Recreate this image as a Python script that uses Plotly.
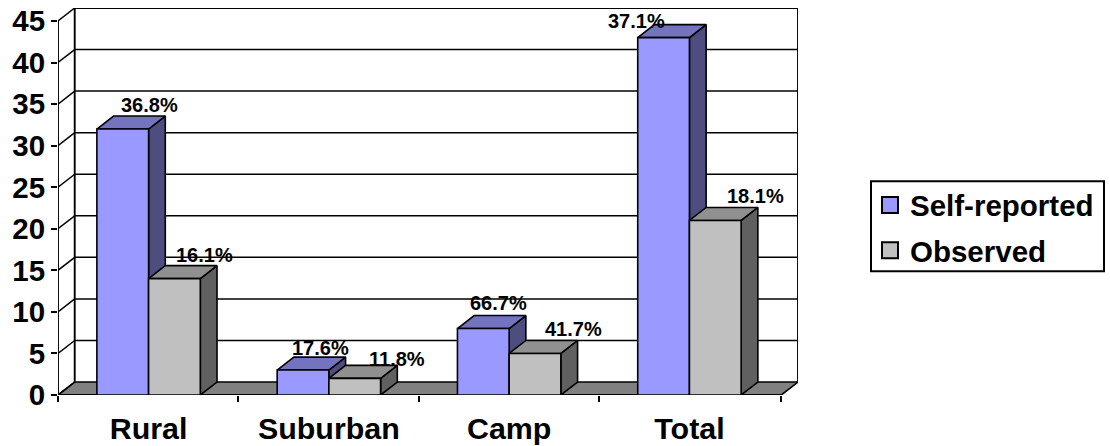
import plotly.graph_objects as go

# Survey results per setting; the percentages are the printed share of respondents.
CATEGORIES = ["Rural", "Suburban", "Camp", "Total"]
SELF_REPORTED = [32, 3, 8, 43]
OBSERVED = [14, 2, 5, 21]
SELF_REPORTED_PCT = ["36.8%", "17.6%", "66.7%", "37.1%"]
OBSERVED_PCT = ["16.1%", "11.8%", "41.7%", "18.1%"]
Y_TICKS = [0, 5, 10, 15, 20, 25, 30, 35, 40, 45]

# Pseudo-3D geometry, in axis units
BAR_WIDTH = 0.286
CATEGORY_STEP = 0.997
FIRST_CENTRE = 0.501
DEPTH_X = 0.0924
DEPTH_Y = 1.56
X_MAX = len(CATEGORIES)
Y_MAX = Y_TICKS[-1]
X_RANGE = [0, X_MAX + DEPTH_X]
Y_RANGE = [0, Y_MAX + DEPTH_Y]

FONT = "Liberation Sans, Arial, sans-serif"
INK = "#000000"

# Label nudges in pixels from the centre of each bar's top edge
SELF_SHIFTS = [(27, 24), (17, 22), (15, 26), (-27, 17)]
OBS_SHIFTS = [(30, 24), (42, 19), (38, 24), (40, 24)]


def with_gaps(segments):
    xs, ys = [], []
    for seg_x, seg_y in segments:
        xs += list(seg_x) + [None]
        ys += list(seg_y) + [None]
    return xs, ys


def side_face(left, value):
    right = left + BAR_WIDTH
    return ([right, right + DEPTH_X, right + DEPTH_X, right, right],
            [0, DEPTH_Y, value + DEPTH_Y, value, 0])


def top_face(left, value):
    right = left + BAR_WIDTH
    return ([left, left + DEPTH_X, right + DEPTH_X, right, left],
            [value, value + DEPTH_Y, value + DEPTH_Y, value, value])


def polygons(segments, fill):
    xs, ys = with_gaps(segments)
    return go.Scatter(x=xs, y=ys, mode="lines", fill="toself", fillcolor=fill,
                      line=dict(color=INK, width=1.6), showlegend=False,
                      hoverinfo="skip", cliponaxis=False)


def rules(segments, width):
    xs, ys = with_gaps(segments)
    return go.Scatter(x=xs, y=ys, mode="lines", line=dict(color=INK, width=width),
                      showlegend=False, hoverinfo="skip", cliponaxis=False)


fig = go.Figure()

# Floor of the box
fig.add_trace(polygons(
    [([0, DEPTH_X, X_MAX + DEPTH_X, X_MAX, 0], [0, DEPTH_Y, DEPTH_Y, 0, 0])], "#808080"))

# Back-wall gridlines and the diagonals on the left wall
fig.add_trace(rules([([DEPTH_X, X_MAX + DEPTH_X], [t + DEPTH_Y] * 2) for t in Y_TICKS[1:-1]], 1.5))
fig.add_trace(rules([([0, DEPTH_X], [t, t + DEPTH_Y]) for t in Y_TICKS], 1.5))

# Box frame and front axis lines
fig.add_trace(rules([
    ([DEPTH_X, DEPTH_X, X_MAX + DEPTH_X, X_MAX + DEPTH_X],
     [DEPTH_Y, Y_MAX + DEPTH_Y, Y_MAX + DEPTH_Y, DEPTH_Y]),
    ([0, 0], [0, Y_MAX]),
    ([0, X_MAX], [0, 0]),
], 1.9))

centres = [FIRST_CENTRE + i * CATEGORY_STEP for i in range(len(CATEGORIES))]
boundaries = [i * CATEGORY_STEP for i in range(len(CATEGORIES))] + [X_MAX]
self_left = [c - BAR_WIDTH for c in centres]
obs_left = list(centres)

# Depth faces: the observed faces are painted over the self-reported side
fig.add_trace(polygons([side_face(l, v) for l, v in zip(self_left, SELF_REPORTED)], "#4D4D80"))
fig.add_trace(polygons([top_face(l, v) for l, v in zip(self_left, SELF_REPORTED)], "#7373BF"))
fig.add_trace(polygons([side_face(l, v) for l, v in zip(obs_left, OBSERVED)], "#606060"))
fig.add_trace(polygons([top_face(l, v) for l, v in zip(obs_left, OBSERVED)], "#909090"))

# Front faces live on overlay axes so that they sit above the depth faces
for name, values, colour in (("Self-reported", SELF_REPORTED, "#9999FF"),
                             ("Observed", OBSERVED, "#C0C0C0")):
    fig.add_trace(go.Bar(x=centres, y=values, name=name, xaxis="x2", yaxis="y2",
                         marker=dict(color=colour, line=dict(color=INK, width=1.6)),
                         showlegend=False, cliponaxis=False))

# Legend keys
for idx, (name, colour) in enumerate((("Self-reported", "#9999FF"), ("Observed", "#C0C0C0"))):
    fig.add_trace(go.Scatter(x=[None], y=[None], mode="markers", name=name,
                             legendgroup=f"g{idx}",
                             marker=dict(symbol="square", size=16, color=colour,
                                         line=dict(color=INK, width=2))))

# Percentage labels above the bars
annotations = []
for values, texts, shifts, offset in (
        (SELF_REPORTED, SELF_REPORTED_PCT, SELF_SHIFTS, -BAR_WIDTH / 2),
        (OBSERVED, OBSERVED_PCT, OBS_SHIFTS, BAR_WIDTH / 2)):
    for c, v, t, (sx, sy) in zip(centres, values, texts, shifts):
        annotations.append(dict(x=c + offset, y=v, xref="x", yref="y", text=t,
                                showarrow=False, xanchor="center", yanchor="middle",
                                xshift=sx, yshift=sy,
                                font=dict(family=FONT, size=20, color=INK, weight="bold")))

# Plotting-area size, used to express the legend placement as fractions of it
PLOT_L, PLOT_R, PLOT_T, PLOT_B = 58, 798, 7.5, 395
plot_w = PLOT_R - PLOT_L
plot_h = PLOT_B - PLOT_T


def frac_x(px):
    return (px - PLOT_L) / plot_w


def frac_y(px):
    return (PLOT_B - px) / plot_h


fig.update_layout(
    width=1110, height=446, autosize=False,
    margin=dict(l=PLOT_L, r=1110 - PLOT_R, t=PLOT_T, b=446 - PLOT_B, pad=0, autoexpand=False),
    paper_bgcolor="white", plot_bgcolor="white",
    barmode="group", bargap=1 - 2 * BAR_WIDTH / CATEGORY_STEP, bargroupgap=0,
    showlegend=True,
    legend=dict(x=frac_x(870), y=frac_y(179), xanchor="left", yanchor="top",
                borderwidth=0, bgcolor="rgba(0,0,0,0)",
                tracegroupgap=4, entrywidth=190, entrywidthmode="pixels",
                itemclick=False, itemdoubleclick=False,
                font=dict(family=FONT, size=29.5, color=INK, weight="bold")),
    # Legend frame
    shapes=[dict(type="rect", xref="paper", yref="paper", layer="below",
                 x0=frac_x(871), x1=frac_x(1104), y0=frac_y(271), y1=frac_y(181),
                 line=dict(color=INK, width=2), fillcolor="white")],
    annotations=annotations,
    xaxis=dict(range=X_RANGE, automargin=False, tickmode="array",
               tickvals=boundaries,
               ticktext=[""] * len(boundaries), ticks="outside", ticklen=6, tickwidth=1.6,
               tickcolor=INK, showgrid=False, zeroline=False, showline=False),
    yaxis=dict(range=Y_RANGE, automargin=False, tickmode="array", tickvals=Y_TICKS,
               ticks="outside", ticklen=6, tickwidth=1.6, tickcolor=INK, showgrid=False,
               zeroline=False, showline=False,
               tickfont=dict(family=FONT, size=29.5, color=INK, weight="bold")),
    xaxis2=dict(range=X_RANGE, automargin=False, overlaying="x", anchor="y2", side="bottom",
                tickmode="array", tickvals=centres, ticktext=CATEGORIES, ticks="",
                showgrid=False, zeroline=False, showline=False, ticklabelstandoff=13,
                tickfont=dict(family=FONT, size=30.4, color=INK, weight="bold")),
    yaxis2=dict(range=Y_RANGE, automargin=False, overlaying="y", anchor="x2",
                showticklabels=False, ticks="", showgrid=False, zeroline=False, showline=False),
)

fig.write_html("out.html")
